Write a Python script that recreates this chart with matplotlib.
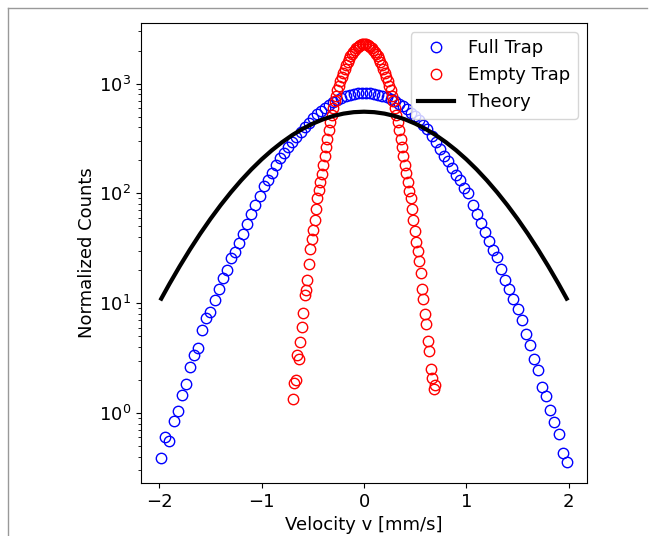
import numpy as np
import matplotlib
matplotlib.use('Agg')
import matplotlib.pyplot as plt
from matplotlib.lines import Line2D

# full trap: 100 bins, -1.98 .. 1.98 mm/s
v_full = np.round(np.arange(-1.98, 1.99, 0.04), 2)
counts_full = [0.39, 0.61, 0.55, 0.85, 1.05, 1.46, 1.85, 2.63, 3.38, 3.87,
               5.75, 7.3, 8.3, 10.8, 13.5, 16.9, 19.9, 25.7, 29.5, 35.5,
               42.7, 52.5, 65.3, 77.6, 94.4, 116, 133, 155, 182, 209,
               234, 263, 293, 326, 363, 403, 439, 484, 525, 566,
               605, 644, 680, 713, 741, 767, 788, 805, 816, 822,
               822, 818, 808, 792, 772, 748, 722, 692, 658, 622,
               585, 545, 505, 468, 422, 385, 331, 295, 254, 219,
               197, 172, 148, 133, 112, 100, 78.5, 64.6, 54.3, 44.2,
               36.7, 30.2, 26.3, 20.3, 16.2, 13.6, 11.0, 8.8, 7.0, 5.2,
               4.17, 3.13, 2.47, 1.71, 1.44, 1.06, 0.82, 0.645, 0.43, 0.357]

# empty trap: 100 bins, -0.693 .. 0.693 mm/s
v_empty = np.round(np.arange(-0.693, 0.694, 0.014), 3)
counts_empty = [1.34, 1.87, 2.0, 3.36, 3.13, 4.44, 6.07, 8.07, 12.0, 13.3,
                16.4, 22.8, 31.4, 38.5, 46.8, 57.5, 72, 90.6, 108, 126,
                151, 183, 217, 262, 315, 375, 443, 518, 600, 688,
                777, 866, 959, 1056, 1157, 1260, 1365, 1469, 1574, 1675,
                1773, 1866, 1953, 2032, 2102, 2163, 2213, 2251, 2276, 2290,
                2300, 2276, 2251, 2213, 2163, 2102, 2032, 1953, 1866, 1773,
                1675, 1574, 1469, 1365, 1260, 1157, 1056, 959, 866, 777,
                688, 600, 518, 443, 375, 315, 262, 217, 183, 153,
                128, 106, 90.6, 72, 57.5, 45.1, 36.1, 30.1, 24.1, 18.9,
                13.6, 11.0, 7.9, 6.43, 4.53, 3.67, 2.54, 2.07, 1.65, 1.8]

v_theory = [-1.98, -1.9, -1.8, -1.7, -1.6, -1.5, -1.4, -1.3, -1.2, -1.1, -1.0,
            -0.9, -0.8, -0.7, -0.6, -0.5, -0.4, -0.3, -0.2, -0.1, 0.0,
            0.1, 0.2, 0.3, 0.4, 0.5, 0.6, 0.7, 0.8, 0.9, 1.0,
            1.1, 1.2, 1.3, 1.4, 1.5, 1.6, 1.7, 1.8, 1.9, 1.98]
counts_theory = [11.0, 15.0, 21.7, 30.8, 42.9, 58.5, 78.2, 102.4, 131.5, 165.5, 204.2,
                 246.9, 292.6, 340.0, 387.2, 432.2, 472.9, 507.2, 533.2, 549.5, 555,
                 549.5, 533.2, 507.2, 472.9, 432.2, 387.2, 340.0, 292.6, 246.9, 204.2,
                 165.5, 131.5, 102.4, 78.2, 58.5, 42.9, 30.8, 21.7, 15.0, 11.0]

fig = plt.figure(figsize=(6.5, 5.36), dpi=100)
ax = fig.add_axes([141/650, 1-483/536, (587-141)/650, (483-23)/536])

ax.plot(v_full, counts_full, 'o', color='blue', fillstyle='none',
        markersize=7.5, markeredgewidth=1.0, label='Full Trap')
ax.plot(v_empty, counts_empty, 'o', color='red', fillstyle='none',
        markersize=7.5, markeredgewidth=1.0, label='Empty Trap')
ax.plot(v_theory, counts_theory, color='black', linewidth=3, label='Theory')

ax.set_yscale('log')
ax.set_xlabel('Velocity v [mm/s]', fontsize=13)
ax.set_ylabel('Normalized Counts', fontsize=13, labelpad=2)
ax.tick_params(labelsize=13)
ax.legend(loc='upper right', fontsize=13)

# thin frame of the screenshot
fig.add_artist(Line2D([8/650, 8/650], [0, 1-8/536], transform=fig.transFigure,
                      color='#999999', lw=1))
fig.add_artist(Line2D([8/650, 0.995], [1-8/536, 1-8/536], transform=fig.transFigure,
                      color='#999999', lw=1))

fig.savefig('out.png', dpi=100)
